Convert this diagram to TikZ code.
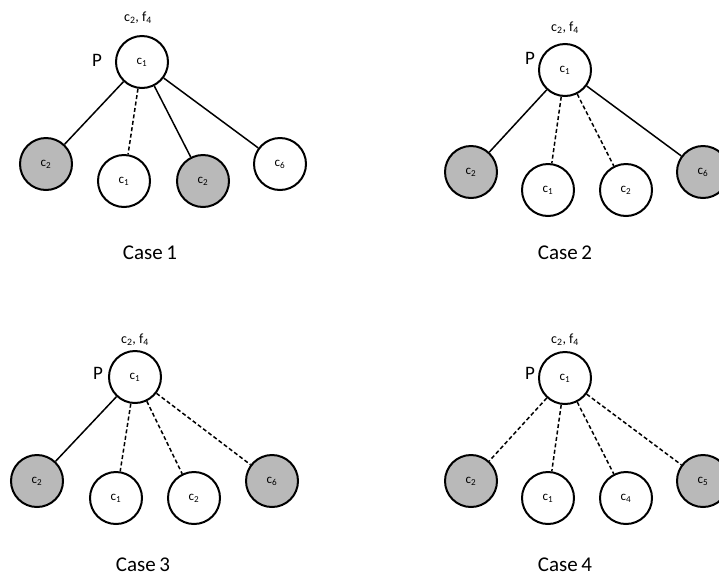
\documentclass[tikz,border=0pt]{standalone}
\usepackage{fontspec}
\setmainfont{Carlito}
\begin{document}
\begin{tikzpicture}[x=1pt,y=-1pt,
  vtx/.style={circle,draw=black,line width=2pt,minimum size=52pt,inner sep=0pt,font=\fontsize{13}{13}\selectfont},
  white/.style={vtx,fill=white},
  grey/.style={vtx,fill=gray!55},
  solidedge/.style={line width=1.5pt},
  dashedge/.style={line width=1.5pt,dash pattern=on 4pt off 2.5pt},
  toplabel/.style={font=\fontsize{14}{14}\selectfont},
  plabel/.style={font=\fontsize{19}{19}\selectfont},
  caselabel/.style={font=\fontsize{21}{21}\selectfont}]
\useasboundingbox (0,0) rectangle (719,579);

% Case 1
\node[white] (r1) at (142,62) {c\textsubscript{1}};
\node[toplabel] (t1) at (138,18) {c\textsubscript{2}, f\textsubscript{4}};
\node[plabel] (p1) at (97,60) {P};
\node[grey]  (a1) at (46,164)  {c\textsubscript{2}};
\node[white] (b1) at (124,181) {c\textsubscript{1}};
\node[grey]  (c1) at (203,181) {c\textsubscript{2}};
\node[white] (d1) at (280,164) {c\textsubscript{6}};
\draw[solidedge] (r1) -- (a1);
\draw[dashedge]  (r1) -- (b1);
\draw[solidedge] (r1) -- (c1);
\draw[solidedge] (r1) -- (d1);
\node[caselabel] (k1) at (150,253) {Case\,1};

% Case 2
\node[white] (r2) at (565,70) {c\textsubscript{1}};
\node[toplabel] (t2) at (565,28) {c\textsubscript{2}, f\textsubscript{4}};
\node[plabel] (p2) at (530,58) {P};
\node[grey]  (a2) at (471,172) {c\textsubscript{2}};
\node[white] (b2) at (548,190) {c\textsubscript{1}};
\node[white] (c2) at (626,190) {c\textsubscript{2}};
\node[grey]  (d2) at (703,172) {c\textsubscript{6}};
\draw[solidedge] (r2) -- (a2);
\draw[dashedge]  (r2) -- (b2);
\draw[dashedge]  (r2) -- (c2);
\draw[solidedge] (r2) -- (d2);
\node[caselabel] (k2) at (565,253) {Case\,2};

% Case 3
\node[white] (r3) at (135,377) {c\textsubscript{1}};
\node[toplabel] (t3) at (135,340) {c\textsubscript{2}, f\textsubscript{4}};
\node[plabel] (p3) at (98,373) {P};
\node[grey]  (a3) at (37,481)  {c\textsubscript{2}};
\node[white] (b3) at (116,498) {c\textsubscript{1}};
\node[white] (c3) at (194,498) {c\textsubscript{2}};
\node[grey]  (d3) at (272,481) {c\textsubscript{6}};
\draw[solidedge] (r3) -- (a3);
\draw[dashedge]  (r3) -- (b3);
\draw[dashedge]  (r3) -- (c3);
\draw[dashedge]  (r3) -- (d3);
\node[caselabel] (k3) at (143,565) {Case\,3};

% Case 4
\node[white] (r4) at (565,378) {c\textsubscript{1}};
\node[toplabel] (t4) at (565,340) {c\textsubscript{2}, f\textsubscript{4}};
\node[plabel] (p4) at (530,373) {P};
\node[grey]  (a4) at (471,481) {c\textsubscript{2}};
\node[white] (b4) at (548,498) {c\textsubscript{1}};
\node[white] (c4) at (626,498) {c\textsubscript{4}};
\node[grey]  (d4) at (703,481) {c\textsubscript{5}};
\draw[dashedge] (r4) -- (a4);
\draw[dashedge] (r4) -- (b4);
\draw[dashedge] (r4) -- (c4);
\draw[dashedge] (r4) -- (d4);
\node[caselabel] (k4) at (565,565) {Case\,4};
\end{tikzpicture}
\end{document}
